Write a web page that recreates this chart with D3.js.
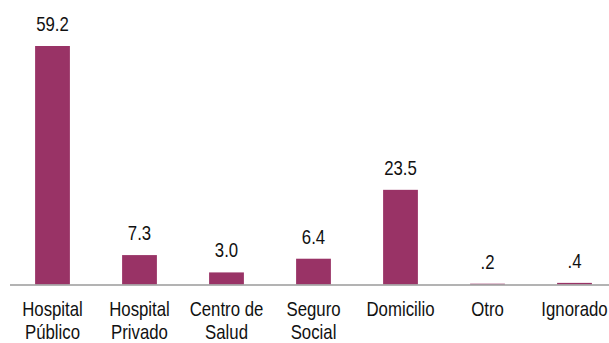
<!DOCTYPE html>
<html>
<head>
<meta charset="utf-8">
<script src="https://cdn.jsdelivr.net/npm/d3@7"></script>
<style>
  html, body { margin: 0; padding: 0; background: #fff; }
  svg { display: block; }
  text { font-family: "Liberation Sans", Arial, sans-serif; fill: #111; }
</style>
</head>
<body>
<div id="chart"></div>
<script>
const width = 609;
const height = 343;

const categories = ["Hospital Público", "Hospital Privado", "Centro de Salud", "Seguro Social", "Domicilio", "Otro", "Ignorado"];
const labelLines = [["Hospital", "Público"], ["Hospital", "Privado"], ["Centro de", "Salud"], ["Seguro", "Social"], ["Domicilio"], ["Otro"], ["Ignorado"]];
const values = [59.2, 7.3, 3.0, 6.4, 23.5, 0.2, 0.4];
const valueLabels = ["59.2", "7.3", "3.0", "6.4", "23.5", ".2", ".4"];

const baseline = 284.5;
const squeeze = 0.84; // narrow typeface look

const svg = d3.select("#chart")
    .append("svg")
    .attr("width", width)
    .attr("height", height);

const x = d3.scaleBand()
    .domain(categories)
    .range([9, 618])
    .paddingInner(0.6)
    .paddingOuter(0.3);

const y = d3.scaleLinear()
    .domain([0, 59.2])
    .range([baseline, 46]);

const cx = d => x(d) + x.bandwidth() / 2;

// bars
svg.append("g")
    .selectAll("rect")
    .data(values)
    .join("rect")
    .attr("x", (d, i) => x(categories[i]))
    .attr("y", d => y(d))
    .attr("width", x.bandwidth())
    .attr("height", d => baseline - y(d))
    .attr("fill", "#993366");

// baseline
svg.append("line")
    .attr("x1", 10)
    .attr("x2", width)
    .attr("y1", baseline + 0.5)
    .attr("y2", baseline + 0.5)
    .attr("stroke", "#9a9a9a")
    .attr("stroke-width", 1.6);

// value labels
svg.append("g")
    .selectAll("g")
    .data(values)
    .join("g")
    .attr("transform", (d, i) => `translate(${cx(categories[i])},${y(d) - 15}) scale(${squeeze},1)`)
    .append("text")
    .attr("text-anchor", "middle")
    .attr("font-size", 20)
    .text((d, i) => valueLabels[i]);

// category labels
const cat = svg.append("g")
    .selectAll("g")
    .data(categories)
    .join("g")
    .attr("transform", d => `translate(${cx(d)},316) scale(${squeeze},1)`)
    .append("text")
    .attr("text-anchor", "middle")
    .attr("font-size", 20);

cat.each(function(d, i) {
    const t = d3.select(this);
    labelLines[i].forEach((line, j) => {
        t.append("tspan")
            .attr("x", 0)
            .attr("dy", j === 0 ? 0 : 23)
            .text(line);
    });
});
</script>
</body>
</html>
